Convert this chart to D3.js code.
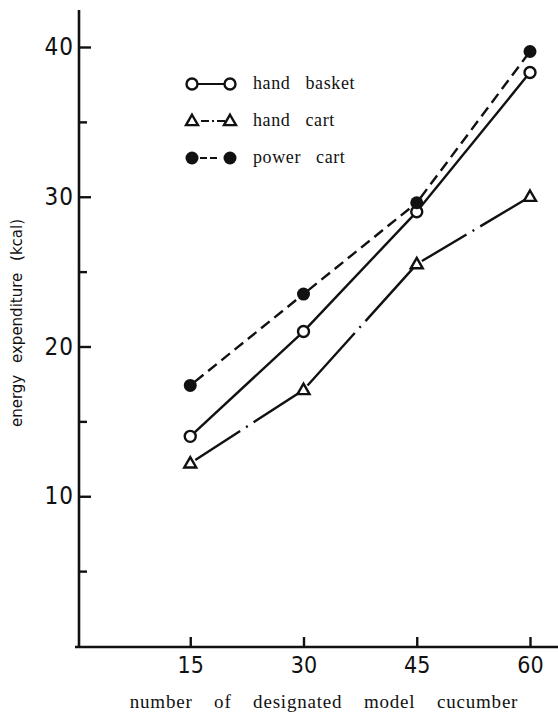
<!DOCTYPE html>
<meta charset="utf-8">
<style>
body { margin: 0; background: #fff; }
.axis path, .axis line { stroke: #111; }
.ytick text { font-family: "DejaVu Sans Condensed", "DejaVu Sans", sans-serif; font-size: 24px; fill: #111; letter-spacing: 1px; }
.xtick text { font-family: "DejaVu Sans Condensed", "DejaVu Sans", sans-serif; font-size: 23px; fill: #111; }
.legend text { font-family: "Liberation Serif", "Times New Roman", serif; font-size: 18px; fill: #111; letter-spacing: 0.6px; word-spacing: 10px; }
</style>
<body>
<script src="https://cdn.jsdelivr.net/npm/d3@7"></script>
<script>

// data
var counts = [15, 30, 45, 60];
var handBasket = [14.0, 21.0, 29.0, 38.3];
var handCart = [12.2, 17.1, 25.5, 30.0];
var powerCart = [17.4, 23.5, 29.6, 39.7];
var majorTicks = [10, 20, 30, 40];
var minorTicks = [5, 15, 25, 35];

var width = 558, height = 717;

var svg = d3.select("body").append("svg")
    .attr("width", width)
    .attr("height", height);

var x = d3.scaleLinear().domain([0, 60]).range([77, 530]);
var y = d3.scaleLinear().domain([0, 40]).range([646, 47]);

// y axis: ticks point inward, labels on the left
svg.append("line")
    .attr("x1", 79).attr("x2", 79)
    .attr("y1", 10).attr("y2", 648)
    .attr("stroke", "#111").attr("stroke-width", 2.6);

svg.append("g")
    .attr("class", "axis ytick")
    .attr("transform", "translate(79,0)")
    .call(d3.axisLeft(y).tickValues(majorTicks).tickSize(-12).tickPadding(5).tickFormat(d3.format("d")))
    .call(function(g) { g.select(".domain").remove(); })
    .call(function(g) { g.selectAll("line").attr("stroke-width", 2.4); });

svg.append("g")
    .attr("class", "axis")
    .attr("transform", "translate(79,0)")
    .call(d3.axisLeft(y).tickValues(minorTicks).tickSize(-8).tickFormat(""))
    .call(function(g) { g.select(".domain").remove(); })
    .call(function(g) { g.selectAll("line").attr("stroke-width", 2.4); });

// x axis
svg.append("line")
    .attr("x1", 75).attr("x2", 558)
    .attr("y1", 647).attr("y2", 647)
    .attr("stroke", "#111").attr("stroke-width", 2.6);

svg.append("g")
    .attr("class", "axis xtick")
    .attr("transform", "translate(0,647)")
    .call(d3.axisBottom(x).tickValues(counts).tickSize(-10).tickPadding(10).tickFormat(d3.format("d")))
    .call(function(g) { g.select(".domain").remove(); })
    .call(function(g) { g.selectAll("line").attr("stroke-width", 2.4); });

// axis titles
svg.append("text")
    .attr("transform", "translate(22,323) rotate(-90)")
    .attr("text-anchor", "middle")
    .style("font-family", "'DejaVu Sans', sans-serif")
    .style("font-size", "15px")
    .style("word-spacing", "7px")
    .attr("fill", "#111")
    .text("energy expenditure (kcal)");

svg.append("text")
    .attr("x", 324)
    .attr("y", 708)
    .attr("text-anchor", "middle")
    .style("font-family", "'Liberation Serif', 'Times New Roman', serif")
    .style("font-size", "19px")
    .style("letter-spacing", "0.8px")
    .style("word-spacing", "16px")
    .attr("fill", "#111")
    .text("number of designated model cucumber");

// series
var series = [
  {name: "hand basket", values: handBasket, marker: "open", dash: null},
  {name: "hand cart", values: handCart, marker: "triangle", dash: "dashdot"},
  {name: "power cart", values: powerCart, marker: "filled", dash: "11,6"}
];

function drawMarker(g, type, cx, cy) {
  if (type === "triangle") {
    var s = 12, h = s * Math.sqrt(3) / 2;
    g.append("path")
      .attr("d", "M" + cx + "," + (cy - h * 0.6) + "L" + (cx + s / 2) + "," + (cy + h * 0.4) + "L" + (cx - s / 2) + "," + (cy + h * 0.4) + "Z")
      .attr("fill", "#fff").attr("stroke", "#111").attr("stroke-width", 2.4);
  } else {
    g.append("circle")
      .attr("cx", cx).attr("cy", cy).attr("r", type === "open" ? 5.5 : 6.5)
      .attr("fill", type === "open" ? "#fff" : "#111")
      .attr("stroke", "#111").attr("stroke-width", type === "open" ? 2.4 : 0);
  }
}

// dash-dot with one dot in the middle of each segment
function dashDot(len, gap) {
  var d = (len - 2 * gap - 2) / 2;
  return d + "," + gap + ",2," + gap + "," + d + "," + len;
}

series.forEach(function(s) {
  var g = svg.append("g");
  var pts = counts.map(function(c, i) { return [x(c), y(s.values[i])]; });
  for (var i = 0; i < pts.length - 1; i++) {
    var p0 = pts[i], p1 = pts[i + 1];
    var dx = p1[0] - p0[0], dy = p1[1] - p0[1];
    var L = Math.sqrt(dx * dx + dy * dy);
    var r = 6, ux = dx / L, uy = dy / L;
    var a = [p0[0] + ux * r, p0[1] + uy * r], b = [p1[0] - ux * r, p1[1] - uy * r];
    var seg = g.append("line")
      .attr("x1", a[0]).attr("y1", a[1]).attr("x2", b[0]).attr("y2", b[1])
      .attr("stroke", "#111").attr("stroke-width", 2.4);
    if (s.dash === "dashdot") seg.attr("stroke-dasharray", dashDot(L - 2 * r, 7));
    else if (s.dash) seg.attr("stroke-dasharray", s.dash);
  }
  pts.forEach(function(p) { drawMarker(g, s.marker, p[0], p[1]); });
});

// legend
var legend = svg.append("g").attr("class", "legend")
  .selectAll("g")
  .data(series)
  .enter().append("g")
    .attr("transform", function(d, i) { return "translate(0," + (84 + i * 37) + ")"; });

legend.each(function(d) {
  var g = d3.select(this);
  var ln = g.append("line")
    .attr("x1", 192).attr("x2", 230).attr("y1", 0).attr("y2", 0)
    .attr("stroke", "#111").attr("stroke-width", 2.2);
  if (d.dash === "dashdot") ln.attr("stroke-dasharray", "0,9,8,3,2,3,8,20");
  else if (d.dash) ln.attr("stroke-dasharray", "0,8,7,3,7,20");
  drawMarker(g, d.marker, 192, 0);
  drawMarker(g, d.marker, 230, 0);
  g.append("text")
    .attr("x", 253).attr("y", 5)
    .text(d.name);
});

</script>
</body>
